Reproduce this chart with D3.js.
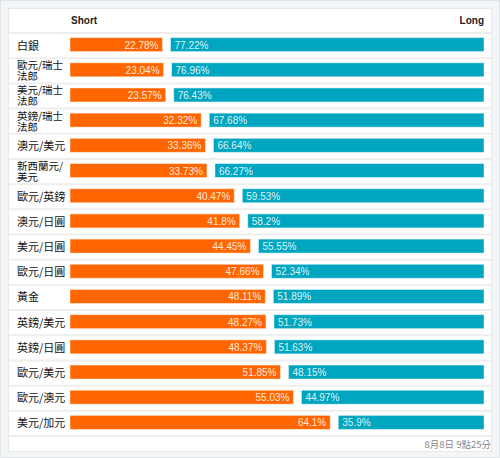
<!DOCTYPE html>
<html>
<head>
<meta charset="utf-8">
<script src="https://cdn.jsdelivr.net/npm/d3@7"></script>
<style>
  html, body { margin: 0; padding: 0; background: #ffffff; }
  svg { display: block; }
</style>
</head>
<body>
<svg id="chart" width="500" height="458"></svg>
<script>
const categories = ["白銀", "歐元/瑞士\n法郎", "美元/瑞士\n法郎", "英鎊/瑞士\n法郎", "澳元/美元", "新西蘭元/\n美元", "歐元/英鎊", "澳元/日圓", "美元/日圓", "歐元/日圓", "黃金", "英鎊/美元", "英鎊/日圓", "歐元/美元", "歐元/澳元", "美元/加元"];
const shortValues = [22.78, 23.04, 23.57, 32.32, 33.36, 33.73, 40.47, 41.8, 44.45, 47.66, 48.11, 48.27, 48.37, 51.85, 55.03, 64.1];
const longValues = [77.22, 76.96, 76.43, 67.68, 66.64, 66.27, 59.53, 58.2, 55.55, 52.34, 51.89, 51.73, 51.63, 48.15, 44.97, 35.9];
const seriesNames = ["Short", "Long"];
const footerText = "8月8日 9點25分";

const svg = d3.select("#chart");
const W = 500, H = 458;
const cjk = "'Noto Sans CJK TC', 'Noto Sans CJK SC', sans-serif";
const latin = "'Liberation Sans', Arial, sans-serif";

// outer frame
svg.append("rect").attr("x", 0.5).attr("y", 0.5).attr("width", W - 1).attr("height", H - 1)
  .attr("fill", "#f3f5f6").attr("stroke", "#dfe4e6");
// inner card
svg.append("rect").attr("x", 8.5).attr("y", 8.5).attr("width", 483).attr("height", 443)
  .attr("fill", "#ffffff").attr("stroke", "#e6e9eb");

const left = 70, gap = 8;
const x = d3.scaleLinear().domain([0, 100]).range([0, 406]);
const y = d3.scaleBand().domain(categories.map((d, i) => i)).range([33, 436]).paddingInner(0).paddingOuter(0);
const barH = 14;

// row separators
const bounds = [33].concat(categories.map((d, i) => y(i) + y.bandwidth()));
svg.selectAll("line.sep").data(bounds).join("line")
  .attr("x1", 9).attr("x2", 491)
  .attr("y1", d => d).attr("y2", d => d)
  .attr("stroke", "#eeeeee").attr("stroke-width", 2);

// header
svg.append("text").attr("x", left + 1).attr("y", 24)
  .attr("font-family", latin).attr("font-size", 10).attr("font-weight", "bold")
  .attr("fill", "#222").text(seriesNames[0]);
svg.append("text").attr("x", left + x(100) + gap).attr("y", 24).attr("text-anchor", "end")
  .attr("font-family", latin).attr("font-size", 10).attr("font-weight", "bold")
  .attr("fill", "#222").text(seriesNames[1]);

const rows = svg.selectAll("g.row").data(categories).join("g").attr("class", "row")
  .attr("transform", (d, i) => `translate(0,${y(i) + y.bandwidth() / 2})`);

// labels
rows.each(function(d) {
  const lines = d.split("\n");
  const lh = 11;
  const y0 = -(lines.length - 1) * lh / 2 + 4;
  lines.forEach((ln, k) => {
    d3.select(this).append("text")
      .attr("x", 17).attr("y", y0 + k * lh)
      .attr("font-family", cjk).attr("font-size", lines.length > 1 ? 10.5 : 11)
      .attr("fill", "#111").text(ln);
  });
});

// short bars
rows.append("rect")
  .attr("x", left).attr("y", -barH / 2 - 1)
  .attr("width", (d, i) => x(shortValues[i])).attr("height", barH)
  .attr("fill", "#ff6600").attr("stroke", "rgba(255,255,255,0.45)").attr("stroke-width", 1);
rows.append("text")
  .attr("x", (d, i) => left + x(shortValues[i]) - 4).attr("y", 3)
  .attr("text-anchor", "end")
  .attr("font-family", latin).attr("font-size", 10)
  .attr("fill", "rgba(255,255,255,0.88)")
  .text((d, i) => shortValues[i] + "%");

// long bars
rows.append("rect")
  .attr("x", (d, i) => left + x(shortValues[i]) + gap).attr("y", -barH / 2 - 1)
  .attr("width", (d, i) => x(longValues[i])).attr("height", barH)
  .attr("fill", "#00a6c0").attr("stroke", "rgba(255,255,255,0.45)").attr("stroke-width", 1);
rows.append("text")
  .attr("x", (d, i) => left + x(shortValues[i]) + gap + 4).attr("y", 3)
  .attr("font-family", latin).attr("font-size", 10)
  .attr("fill", "rgba(255,255,255,0.88)")
  .text((d, i) => longValues[i] + "%");

// footer
svg.append("text").attr("x", 491).attr("y", 448).attr("text-anchor", "end")
  .attr("font-family", cjk).attr("font-size", 9.5).attr("fill", "#888")
  .text(footerText);
</script>
</body>
</html>
